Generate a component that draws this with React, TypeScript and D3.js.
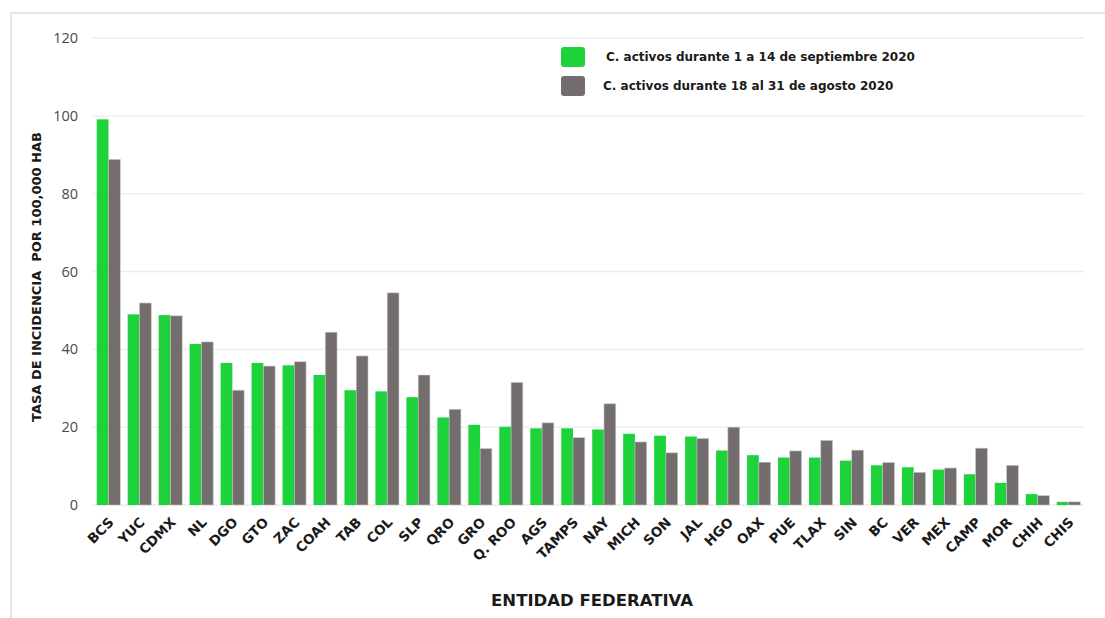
import React from "react";
import * as d3 from "d3";

const estados = [
  "BCS", "YUC", "CDMX", "NL", "DGO", "GTO", "ZAC", "COAH", "TAB", "COL", "SLP",
  "QRO", "GRO", "Q. ROO", "AGS", "TAMPS", "NAY", "MICH", "SON", "JAL", "HGO",
  "OAX", "PUE", "TLAX", "SIN", "BC", "VER", "MEX", "CAMP", "MOR", "CHIH", "CHIS",
];

// Tasa por 100,000 hab, 1 a 14 de septiembre 2020
const septiembre = [
  99.1, 49.0, 48.8, 41.4, 36.5, 36.5, 35.9, 33.4, 29.5, 29.2, 27.7,
  22.5, 20.6, 20.1, 19.7, 19.7, 19.4, 18.3, 17.8, 17.6, 14.0,
  12.8, 12.2, 12.2, 11.4, 10.2, 9.7, 9.1, 7.9, 5.7, 2.8, 0.8,
];

// Tasa por 100,000 hab, 18 al 31 de agosto 2020
const agosto = [
  88.8, 51.9, 48.6, 41.9, 29.5, 35.7, 36.8, 44.4, 38.3, 54.5, 33.4,
  24.6, 14.5, 31.5, 21.1, 17.3, 26.0, 16.2, 13.4, 17.1, 20.0,
  11.0, 13.9, 16.6, 14.1, 10.9, 8.4, 9.5, 14.6, 10.2, 2.4, 0.8,
];

const yTicks = [0, 20, 40, 60, 80, 100, 120];

const seriesNames = [
  "C. activos durante 1 a 14 de septiembre 2020",
  "C. activos durante 18 al 31 de agosto 2020",
];

const W = 1105;
const H = 618;
const GREEN = "#1ed23c";
const GRAY = "#736e6d";
const FONT = "'Open Sans', 'DejaVu Sans', sans-serif";
const BOLD = "'DejaVu Sans', 'Open Sans', sans-serif";

export default function App() {
  const plotLeft = 93;
  const plotRight = 1084;
  const plotTop = 38;
  const plotBottom = 505;

  const x = d3
    .scaleBand<string>()
    .domain(estados)
    .range([plotLeft, plotRight])
    .paddingInner(0.24)
    .paddingOuter(0.12);

  const sub = d3
    .scaleBand<number>()
    .domain([0, 1])
    .range([0, x.bandwidth()]);

  const y = d3.scaleLinear().domain([0, 120]).range([plotBottom, plotTop]);

  const series = [septiembre, agosto];
  const colors = [GREEN, GRAY];

  return (
    <svg
      width={W}
      height={H}
      style={{ position: "absolute", left: 0, top: 0, background: "#fff" }}
      fontFamily={FONT}
    >
      {/* frame */}
      <path d={`M11,${H} L11,13 L${W},13`} fill="none" stroke="#dcdcdc" strokeWidth={1.5} />

      {/* gridlines */}
      {yTicks.map((t) => (
        <line
          key={`g${t}`}
          x1={plotLeft}
          x2={plotRight}
          y1={y(t)}
          y2={y(t)}
          stroke="#ececec"
          strokeWidth={1.3}
        />
      ))}

      {/* y tick labels */}
      {yTicks.map((t) => (
        <text
          key={`t${t}`}
          x={78}
          y={y(t)}
          dy="0.35em"
          textAnchor="end"
          fontSize={14.5}
          fill="#4a4a4a"
        >
          {t}
        </text>
      ))}

      {/* bars */}
      {series.map((vals, s) =>
        estados.map((e, i) => (
          <rect
            key={`${s}-${e}`}
            x={(x(e) as number) + (sub(s) as number)}
            y={y(vals[i])}
            width={sub.bandwidth()}
            height={plotBottom - y(vals[i])}
            fill={colors[s]}
            stroke={s === 1 ? "#c9c6c6" : "none"}
            strokeWidth={0.6}
          />
        ))
      )}

      {/* x labels */}
      {estados.map((e) => {
        const cx = (x(e) as number) + x.bandwidth() / 2 - 1;
        const cy = 516;
        return (
          <text
            key={`l${e}`}
            transform={`translate(${cx},${cy}) rotate(-45)`}
            textAnchor="end"
            dy="0.75em"
            fontFamily={BOLD}
            fontSize={13.5}
            fontWeight={700}
            fill="#1a1a1a"
          >
            {e}
          </text>
        );
      })}

      {/* axis titles */}
      <text
        transform={`translate(41,${277}) rotate(-90)`}
        textAnchor="middle"
        fontFamily={BOLD}
        fontSize={13}
        fontWeight={700}
        fill="#1a1a1a"
        style={{ whiteSpace: "pre" }}
      >
        {"TASA DE INCIDENCIA  POR 100,000 HAB"}
      </text>
      <text
        x={592}
        y={606}
        textAnchor="middle"
        fontFamily={BOLD}
        fontSize={16.5}
        fontWeight={700}
        fill="#1a1a1a"
      >
        ENTIDAD FEDERATIVA
      </text>

      {/* legend */}
      {seriesNames.map((name, s) => (
        <g key={name} transform={`translate(561,${47 + s * 29})`}>
          <rect width={24} height={20} rx={3} fill={colors[s]} />
          <text
            x={s === 0 ? 45 : 42}
            y={10}
            dy="0.35em"
            fontFamily={BOLD}
            fontSize={12}
            fontWeight={700}
            fill="#1a1a1a"
          >
            {name}
          </text>
        </g>
      ))}
    </svg>
  );
}
